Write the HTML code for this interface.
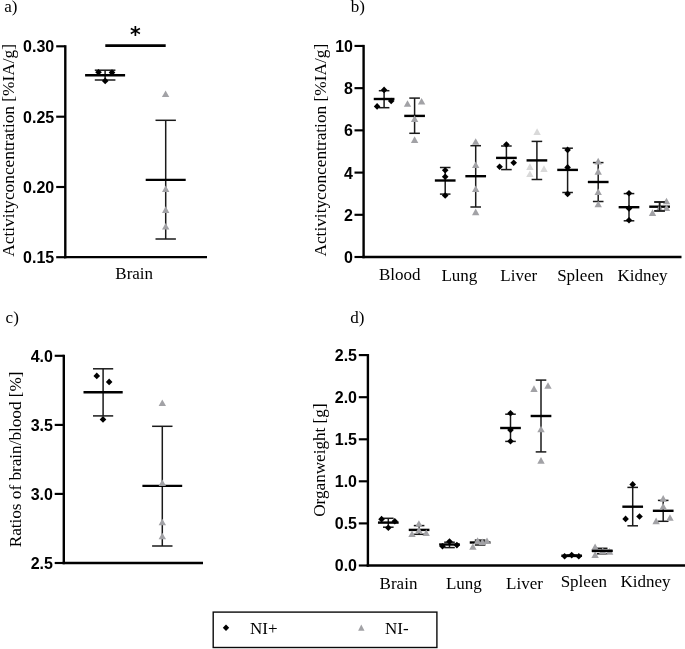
<!DOCTYPE html>
<html lang="en"><head><meta charset="utf-8"><title>Figure</title>
<style>html,body{margin:0;padding:0;background:#fff}svg{display:block}.s{font-family:"Liberation Serif","Times New Roman",serif;fill:#000}.b{font-family:"Liberation Sans",Arial,sans-serif;font-weight:bold;fill:#000}</style></head><body>
<svg width="685" height="649" viewBox="0 0 685 649">
<rect width="685" height="649" fill="#fff"/>
<text x="4.3" y="11.9" font-size="17" text-anchor="start" class="s">a)</text>
<text x="350.8" y="12.1" font-size="17" text-anchor="start" class="s">b)</text>
<text x="5.6" y="322.9" font-size="17" text-anchor="start" class="s">c)</text>
<text x="350.3" y="322.9" font-size="17" text-anchor="start" class="s">d)</text>
<line x1="65.3" y1="45.22" x2="65.3" y2="258.3" stroke="#000" stroke-width="2.4"/>
<line x1="64.1" y1="257.1" x2="207" y2="257.1" stroke="#000" stroke-width="2.4"/>
<line x1="56.2" y1="46.3" x2="65.3" y2="46.3" stroke="#000" stroke-width="2.15"/>
<text x="54.2" y="52.28" font-size="16" text-anchor="end" class="b">0.30</text>
<line x1="56.2" y1="116.7" x2="65.3" y2="116.7" stroke="#000" stroke-width="2.15"/>
<text x="54.2" y="122.68" font-size="16" text-anchor="end" class="b">0.25</text>
<line x1="56.2" y1="187" x2="65.3" y2="187" stroke="#000" stroke-width="2.15"/>
<text x="54.2" y="192.98" font-size="16" text-anchor="end" class="b">0.20</text>
<line x1="56.2" y1="257.2" x2="65.3" y2="257.2" stroke="#000" stroke-width="2.15"/>
<text x="54.2" y="263.18" font-size="16" text-anchor="end" class="b">0.15</text>
<text transform="translate(13.7 150.4) rotate(-90)" font-size="17" text-anchor="middle" class="s" textLength="212.7" lengthAdjust="spacingAndGlyphs">Activityconcentration [%IA/g]</text>
<text x="134.2" y="278.7" font-size="17" text-anchor="middle" class="s">Brain</text>
<line x1="105.3" y1="45.6" x2="165.7" y2="45.6" stroke="#000" stroke-width="2.7"/>
<text x="135.4" y="41.7" font-size="20.5" text-anchor="middle" font-weight="bold" font-family="DejaVu Sans, Liberation Sans, sans-serif" fill="#000">*</text>
<line x1="105.1" y1="70.2" x2="105.1" y2="80" stroke="#1a1a1a" stroke-width="1.5"/>
<line x1="94.8" y1="70.2" x2="115.4" y2="70.2" stroke="#1a1a1a" stroke-width="1.5"/>
<line x1="94.8" y1="80" x2="115.4" y2="80" stroke="#1a1a1a" stroke-width="1.5"/>
<line x1="85.1" y1="75.3" x2="125.1" y2="75.3" stroke="#000" stroke-width="2.5"/>
<path d="M98.5 68.9L101.8 72.2L98.5 75.5L95.2 72.2Z" fill="#000"/>
<path d="M112 69.3L115.3 72.6L112 75.9L108.7 72.6Z" fill="#000"/>
<path d="M105.2 77.6L108.5 80.9L105.2 84.2L101.9 80.9Z" fill="#000"/>
<line x1="165.7" y1="120.3" x2="165.7" y2="239" stroke="#1a1a1a" stroke-width="1.5"/>
<line x1="155.5" y1="120.3" x2="175.9" y2="120.3" stroke="#1a1a1a" stroke-width="1.5"/>
<line x1="155.5" y1="239" x2="175.9" y2="239" stroke="#1a1a1a" stroke-width="1.5"/>
<line x1="145.7" y1="179.9" x2="185.7" y2="179.9" stroke="#000" stroke-width="2.4"/>
<path d="M165.6 90.4L169.3 97L161.9 97Z" fill="#a2a2a6"/>
<path d="M165.7 185.5L169.4 192.1L162 192.1Z" fill="#a2a2a6"/>
<path d="M165.7 206.3L169.4 212.9L162 212.9Z" fill="#a2a2a6"/>
<path d="M165.7 223L169.4 229.6L162 229.6Z" fill="#a2a2a6"/>
<line x1="363.6" y1="44.88" x2="363.6" y2="258.2" stroke="#000" stroke-width="2.4"/>
<line x1="362.4" y1="257" x2="681.5" y2="257" stroke="#000" stroke-width="2.4"/>
<line x1="354.5" y1="45.95" x2="363.6" y2="45.95" stroke="#000" stroke-width="2.15"/>
<text x="353" y="51.68" font-size="16" text-anchor="end" class="b">10</text>
<line x1="354.5" y1="88.15" x2="363.6" y2="88.15" stroke="#000" stroke-width="2.15"/>
<text x="353" y="93.88" font-size="16" text-anchor="end" class="b">8</text>
<line x1="354.5" y1="130.35" x2="363.6" y2="130.35" stroke="#000" stroke-width="2.15"/>
<text x="353" y="136.08" font-size="16" text-anchor="end" class="b">6</text>
<line x1="354.5" y1="172.6" x2="363.6" y2="172.6" stroke="#000" stroke-width="2.15"/>
<text x="353" y="178.58" font-size="16" text-anchor="end" class="b">4</text>
<line x1="354.5" y1="214.8" x2="363.6" y2="214.8" stroke="#000" stroke-width="2.15"/>
<text x="353" y="220.53" font-size="16" text-anchor="end" class="b">2</text>
<line x1="354.5" y1="257" x2="363.6" y2="257" stroke="#000" stroke-width="2.15"/>
<text x="353" y="262.73" font-size="16" text-anchor="end" class="b">0</text>
<text transform="translate(325.6 150.2) rotate(-90)" font-size="17" text-anchor="middle" class="s" textLength="212.7" lengthAdjust="spacingAndGlyphs">Activityconcentration [%IA/g]</text>
<text x="399.8" y="279.8" font-size="17" text-anchor="middle" class="s">Blood</text>
<text x="459.4" y="281" font-size="17" text-anchor="middle" class="s">Lung</text>
<text x="518.7" y="281" font-size="17" text-anchor="middle" class="s">Liver</text>
<text x="580.3" y="281.1" font-size="17" text-anchor="middle" class="s">Spleen</text>
<text x="642.5" y="281.1" font-size="17" text-anchor="middle" class="s">Kidney</text>
<line x1="384.1" y1="90.7" x2="384.1" y2="107.7" stroke="#1a1a1a" stroke-width="1.5"/>
<line x1="378.8" y1="90.7" x2="389.4" y2="90.7" stroke="#1a1a1a" stroke-width="1.5"/>
<line x1="378.8" y1="107.7" x2="389.4" y2="107.7" stroke="#1a1a1a" stroke-width="1.5"/>
<line x1="373.75" y1="99" x2="394.45" y2="99" stroke="#000" stroke-width="2.4"/>
<path d="M384.1 86.6L387.4 89.9L384.1 93.2L380.8 89.9Z" fill="#000"/>
<path d="M391.2 97.7L394.5 101L391.2 104.3L387.9 101Z" fill="#000"/>
<path d="M377.1 103.1L380.4 106.4L377.1 109.7L373.8 106.4Z" fill="#000"/>
<line x1="414.6" y1="98.1" x2="414.6" y2="133.3" stroke="#1a1a1a" stroke-width="1.5"/>
<line x1="409.3" y1="98.1" x2="419.9" y2="98.1" stroke="#1a1a1a" stroke-width="1.5"/>
<line x1="409.3" y1="133.3" x2="419.9" y2="133.3" stroke="#1a1a1a" stroke-width="1.5"/>
<line x1="404.25" y1="115.9" x2="424.95" y2="115.9" stroke="#000" stroke-width="2.4"/>
<path d="M407.5 100.2L411.2 106.8L403.8 106.8Z" fill="#a2a2a6"/>
<path d="M421.6 98L425.3 104.6L417.9 104.6Z" fill="#a2a2a6"/>
<path d="M414.6 115.3L418.3 121.9L410.9 121.9Z" fill="#a2a2a6"/>
<path d="M414.6 136.3L418.3 142.9L410.9 142.9Z" fill="#a2a2a6"/>
<line x1="445.2" y1="167.5" x2="445.2" y2="194.1" stroke="#1a1a1a" stroke-width="1.5"/>
<line x1="439.9" y1="167.5" x2="450.5" y2="167.5" stroke="#1a1a1a" stroke-width="1.5"/>
<line x1="439.9" y1="194.1" x2="450.5" y2="194.1" stroke="#1a1a1a" stroke-width="1.5"/>
<line x1="434.85" y1="180.5" x2="455.55" y2="180.5" stroke="#000" stroke-width="2.4"/>
<path d="M445.2 167L448.5 170.3L445.2 173.6L441.9 170.3Z" fill="#000"/>
<path d="M445.2 173.5L448.5 176.8L445.2 180.1L441.9 176.8Z" fill="#000"/>
<path d="M445.2 192.2L448.5 195.5L445.2 198.8L441.9 195.5Z" fill="#000"/>
<line x1="475.7" y1="145.7" x2="475.7" y2="207" stroke="#1a1a1a" stroke-width="1.5"/>
<line x1="470.4" y1="145.7" x2="481" y2="145.7" stroke="#1a1a1a" stroke-width="1.5"/>
<line x1="470.4" y1="207" x2="481" y2="207" stroke="#1a1a1a" stroke-width="1.5"/>
<line x1="465.35" y1="176.2" x2="486.05" y2="176.2" stroke="#000" stroke-width="2.4"/>
<path d="M475.7 138.2L479.4 144.8L472 144.8Z" fill="#a2a2a6"/>
<path d="M475.7 161.4L479.4 168L472 168Z" fill="#a2a2a6"/>
<path d="M475.7 185.5L479.4 192.1L472 192.1Z" fill="#a2a2a6"/>
<path d="M475.7 208.6L479.4 215.2L472 215.2Z" fill="#a2a2a6"/>
<line x1="506.4" y1="146" x2="506.4" y2="169.6" stroke="#1a1a1a" stroke-width="1.5"/>
<line x1="501.1" y1="146" x2="511.7" y2="146" stroke="#1a1a1a" stroke-width="1.5"/>
<line x1="501.1" y1="169.6" x2="511.7" y2="169.6" stroke="#1a1a1a" stroke-width="1.5"/>
<line x1="496.05" y1="157.9" x2="516.75" y2="157.9" stroke="#000" stroke-width="2.4"/>
<path d="M506.4 141.2L509.7 144.5L506.4 147.8L503.1 144.5Z" fill="#000"/>
<path d="M499.6 163.4L502.9 166.7L499.6 170L496.3 166.7Z" fill="#000"/>
<path d="M513.7 159.5L517 162.8L513.7 166.1L510.4 162.8Z" fill="#000"/>
<line x1="536.9" y1="141.4" x2="536.9" y2="179.5" stroke="#1a1a1a" stroke-width="1.5"/>
<line x1="531.6" y1="141.4" x2="542.2" y2="141.4" stroke="#1a1a1a" stroke-width="1.5"/>
<line x1="531.6" y1="179.5" x2="542.2" y2="179.5" stroke="#1a1a1a" stroke-width="1.5"/>
<line x1="526.55" y1="160.4" x2="547.25" y2="160.4" stroke="#000" stroke-width="2.4"/>
<path d="M537.1 128.3L540.8 134.9L533.4 134.9Z" fill="#d9d9d9"/>
<path d="M529.9 163.3L533.6 169.9L526.2 169.9Z" fill="#d9d9d9"/>
<path d="M544 165.3L547.7 171.9L540.3 171.9Z" fill="#d9d9d9"/>
<path d="M529.9 170.5L533.6 177.1L526.2 177.1Z" fill="#d9d9d9"/>
<line x1="567.6" y1="148.2" x2="567.6" y2="192.5" stroke="#1a1a1a" stroke-width="1.5"/>
<line x1="562.3" y1="148.2" x2="572.9" y2="148.2" stroke="#1a1a1a" stroke-width="1.5"/>
<line x1="562.3" y1="192.5" x2="572.9" y2="192.5" stroke="#1a1a1a" stroke-width="1.5"/>
<line x1="557.25" y1="169.9" x2="577.95" y2="169.9" stroke="#000" stroke-width="2.4"/>
<path d="M567.6 146.6L570.9 149.9L567.6 153.2L564.3 149.9Z" fill="#000"/>
<path d="M567.6 164.1L570.9 167.4L567.6 170.7L564.3 167.4Z" fill="#000"/>
<path d="M567.6 190.6L570.9 193.9L567.6 197.2L564.3 193.9Z" fill="#000"/>
<line x1="598.2" y1="162.6" x2="598.2" y2="201.5" stroke="#1a1a1a" stroke-width="1.5"/>
<line x1="592.9" y1="162.6" x2="603.5" y2="162.6" stroke="#1a1a1a" stroke-width="1.5"/>
<line x1="592.9" y1="201.5" x2="603.5" y2="201.5" stroke="#1a1a1a" stroke-width="1.5"/>
<line x1="587.85" y1="182" x2="608.55" y2="182" stroke="#000" stroke-width="2.4"/>
<path d="M598.2 157.8L601.9 164.4L594.5 164.4Z" fill="#a2a2a6"/>
<path d="M598.2 168.1L601.9 174.7L594.5 174.7Z" fill="#a2a2a6"/>
<path d="M598.2 188.4L601.9 195L594.5 195Z" fill="#a2a2a6"/>
<path d="M598.2 200.7L601.9 207.3L594.5 207.3Z" fill="#a2a2a6"/>
<line x1="629" y1="193.6" x2="629" y2="220.8" stroke="#1a1a1a" stroke-width="1.5"/>
<line x1="623.7" y1="193.6" x2="634.3" y2="193.6" stroke="#1a1a1a" stroke-width="1.5"/>
<line x1="623.7" y1="220.8" x2="634.3" y2="220.8" stroke="#1a1a1a" stroke-width="1.5"/>
<line x1="618.65" y1="207.2" x2="639.35" y2="207.2" stroke="#000" stroke-width="2.4"/>
<path d="M629 189.9L632.3 193.2L629 196.5L625.7 193.2Z" fill="#000"/>
<path d="M629 205.1L632.3 208.4L629 211.7L625.7 208.4Z" fill="#000"/>
<path d="M629 217L632.3 220.3L629 223.6L625.7 220.3Z" fill="#000"/>
<line x1="659.6" y1="202" x2="659.6" y2="210.9" stroke="#1a1a1a" stroke-width="1.5"/>
<line x1="654.3" y1="202" x2="664.9" y2="202" stroke="#1a1a1a" stroke-width="1.5"/>
<line x1="654.3" y1="210.9" x2="664.9" y2="210.9" stroke="#1a1a1a" stroke-width="1.5"/>
<line x1="649.25" y1="206.7" x2="669.95" y2="206.7" stroke="#000" stroke-width="2.4"/>
<path d="M666.5 197.7L670.2 204.3L662.8 204.3Z" fill="#a2a2a6"/>
<path d="M652.5 209.3L656.2 215.9L648.8 215.9Z" fill="#a2a2a6"/>
<path d="M659.6 204.4L663.3 211L655.9 211Z" fill="#a2a2a6"/>
<path d="M666.5 204.4L670.2 211L662.8 211Z" fill="#a2a2a6"/>
<line x1="659.6" y1="202" x2="659.6" y2="210.9" stroke="#1a1a1a" stroke-width="1.5"/>
<line x1="654.3" y1="202" x2="664.9" y2="202" stroke="#1a1a1a" stroke-width="1.5"/>
<line x1="654.3" y1="210.9" x2="664.9" y2="210.9" stroke="#1a1a1a" stroke-width="1.5"/>
<line x1="63.8" y1="354.73" x2="63.8" y2="564.2" stroke="#000" stroke-width="2.4"/>
<line x1="62.6" y1="563" x2="203" y2="563" stroke="#000" stroke-width="2.4"/>
<line x1="54.7" y1="355.8" x2="63.8" y2="355.8" stroke="#000" stroke-width="2.15"/>
<text x="52.95" y="361.53" font-size="16" text-anchor="end" class="b">4.0</text>
<line x1="54.7" y1="424.9" x2="63.8" y2="424.9" stroke="#000" stroke-width="2.15"/>
<text x="52.95" y="430.63" font-size="16" text-anchor="end" class="b">3.5</text>
<line x1="54.7" y1="493.9" x2="63.8" y2="493.9" stroke="#000" stroke-width="2.15"/>
<text x="52.95" y="499.63" font-size="16" text-anchor="end" class="b">3.0</text>
<line x1="54.7" y1="563" x2="63.8" y2="563" stroke="#000" stroke-width="2.15"/>
<text x="52.95" y="568.73" font-size="16" text-anchor="end" class="b">2.5</text>
<text transform="translate(21.1 459.4) rotate(-90)" font-size="17" text-anchor="middle" class="s" textLength="175.8" lengthAdjust="spacingAndGlyphs">Ratios of brain/blood [%]</text>
<line x1="103.1" y1="368.8" x2="103.1" y2="415.9" stroke="#1a1a1a" stroke-width="1.5"/>
<line x1="93" y1="368.8" x2="113.2" y2="368.8" stroke="#1a1a1a" stroke-width="1.5"/>
<line x1="93" y1="415.9" x2="113.2" y2="415.9" stroke="#1a1a1a" stroke-width="1.5"/>
<line x1="83.5" y1="392.3" x2="122.7" y2="392.3" stroke="#000" stroke-width="2.4"/>
<path d="M96.75 372.6L100.05 375.9L96.75 379.2L93.45 375.9Z" fill="#000"/>
<path d="M109.15 378.6L112.45 381.9L109.15 385.2L105.85 381.9Z" fill="#000"/>
<path d="M103 416.1L106.3 419.4L103 422.7L99.7 419.4Z" fill="#000"/>
<line x1="162.3" y1="426.3" x2="162.3" y2="546" stroke="#1a1a1a" stroke-width="1.5"/>
<line x1="152.1" y1="426.3" x2="172.5" y2="426.3" stroke="#1a1a1a" stroke-width="1.5"/>
<line x1="152.1" y1="546" x2="172.5" y2="546" stroke="#1a1a1a" stroke-width="1.5"/>
<line x1="142.4" y1="485.9" x2="182.2" y2="485.9" stroke="#000" stroke-width="2.4"/>
<path d="M162.3 399.5L166 406.1L158.6 406.1Z" fill="#a2a2a6"/>
<path d="M162.3 479.4L166 486L158.6 486Z" fill="#a2a2a6"/>
<path d="M162.3 518.7L166 525.3L158.6 525.3Z" fill="#a2a2a6"/>
<path d="M162.3 532.7L166 539.3L158.6 539.3Z" fill="#a2a2a6"/>
<line x1="367.9" y1="354.03" x2="367.9" y2="566.7" stroke="#000" stroke-width="2.4"/>
<line x1="366.7" y1="565.5" x2="685" y2="565.5" stroke="#000" stroke-width="2.4"/>
<line x1="358.8" y1="355.1" x2="367.9" y2="355.1" stroke="#000" stroke-width="2.15"/>
<text x="357" y="361.03" font-size="16" text-anchor="end" class="b">2.5</text>
<line x1="358.8" y1="397.2" x2="367.9" y2="397.2" stroke="#000" stroke-width="2.15"/>
<text x="357" y="403.13" font-size="16" text-anchor="end" class="b">2.0</text>
<line x1="358.8" y1="439.3" x2="367.9" y2="439.3" stroke="#000" stroke-width="2.15"/>
<text x="357" y="445.23" font-size="16" text-anchor="end" class="b">1.5</text>
<line x1="358.8" y1="481.3" x2="367.9" y2="481.3" stroke="#000" stroke-width="2.15"/>
<text x="357" y="487.23" font-size="16" text-anchor="end" class="b">1.0</text>
<line x1="358.8" y1="523.4" x2="367.9" y2="523.4" stroke="#000" stroke-width="2.15"/>
<text x="357" y="529.33" font-size="16" text-anchor="end" class="b">0.5</text>
<line x1="358.8" y1="565.5" x2="367.9" y2="565.5" stroke="#000" stroke-width="2.15"/>
<text x="357" y="571.43" font-size="16" text-anchor="end" class="b">0.0</text>
<text transform="translate(324.6 460.1) rotate(-90)" font-size="17" text-anchor="middle" class="s" textLength="113.4" lengthAdjust="spacingAndGlyphs">Organweight [g]</text>
<text x="398.5" y="588.8" font-size="17" text-anchor="middle" class="s">Brain</text>
<text x="463.9" y="588.8" font-size="17" text-anchor="middle" class="s">Lung</text>
<text x="524.5" y="589" font-size="17" text-anchor="middle" class="s">Liver</text>
<text x="583.8" y="587.4" font-size="17" text-anchor="middle" class="s">Spleen</text>
<text x="645.6" y="587.4" font-size="17" text-anchor="middle" class="s">Kidney</text>
<line x1="388.3" y1="518.3" x2="388.3" y2="527.2" stroke="#1a1a1a" stroke-width="1.5"/>
<line x1="383" y1="518.3" x2="393.6" y2="518.3" stroke="#1a1a1a" stroke-width="1.5"/>
<line x1="383" y1="527.2" x2="393.6" y2="527.2" stroke="#1a1a1a" stroke-width="1.5"/>
<line x1="377.95" y1="522.6" x2="398.65" y2="522.6" stroke="#000" stroke-width="2.4"/>
<path d="M381.55 515.85L384.85 519.15L381.55 522.45L378.25 519.15Z" fill="#000"/>
<path d="M394.8 518L398.1 521.3L394.8 524.6L391.5 521.3Z" fill="#000"/>
<path d="M388.3 524.5L391.6 527.8L388.3 531.1L385 527.8Z" fill="#000"/>
<line x1="419.1" y1="525.6" x2="419.1" y2="534.3" stroke="#1a1a1a" stroke-width="1.5"/>
<line x1="413.8" y1="525.6" x2="424.4" y2="525.6" stroke="#1a1a1a" stroke-width="1.5"/>
<line x1="413.8" y1="534.3" x2="424.4" y2="534.3" stroke="#1a1a1a" stroke-width="1.5"/>
<line x1="408.75" y1="529.9" x2="429.45" y2="529.9" stroke="#000" stroke-width="2.4"/>
<path d="M418.9 520.2L422.6 526.8L415.2 526.8Z" fill="#a2a2a6"/>
<path d="M412 530.5L415.7 537.1L408.3 537.1Z" fill="#a2a2a6"/>
<path d="M418.9 526.7L422.6 533.3L415.2 533.3Z" fill="#a2a2a6"/>
<path d="M426.2 529.4L429.9 536L422.5 536Z" fill="#a2a2a6"/>
<line x1="449.5" y1="542.2" x2="449.5" y2="547.6" stroke="#1a1a1a" stroke-width="1.5"/>
<line x1="444.2" y1="542.2" x2="454.8" y2="542.2" stroke="#1a1a1a" stroke-width="1.5"/>
<line x1="444.2" y1="547.6" x2="454.8" y2="547.6" stroke="#1a1a1a" stroke-width="1.5"/>
<line x1="439.15" y1="544.5" x2="459.85" y2="544.5" stroke="#000" stroke-width="2.4"/>
<path d="M449.5 538.2L452.8 541.5L449.5 544.8L446.2 541.5Z" fill="#000"/>
<path d="M442.5 542.9L445.8 546.2L442.5 549.5L439.2 546.2Z" fill="#000"/>
<path d="M456.9 541.8L460.2 545.1L456.9 548.4L453.6 545.1Z" fill="#000"/>
<line x1="480.1" y1="540.1" x2="480.1" y2="545" stroke="#1a1a1a" stroke-width="1.5"/>
<line x1="474.8" y1="540.1" x2="485.4" y2="540.1" stroke="#1a1a1a" stroke-width="1.5"/>
<line x1="474.8" y1="545" x2="485.4" y2="545" stroke="#1a1a1a" stroke-width="1.5"/>
<line x1="469.75" y1="542.5" x2="490.45" y2="542.5" stroke="#000" stroke-width="2.4"/>
<path d="M472.9 543.2L476.6 549.8L469.2 549.8Z" fill="#a2a2a6"/>
<path d="M477.6 537.3L481.3 543.9L473.9 543.9Z" fill="#a2a2a6"/>
<path d="M482.3 538.5L486 545.1L478.6 545.1Z" fill="#a2a2a6"/>
<path d="M487 537.5L490.7 544.1L483.3 544.1Z" fill="#a2a2a6"/>
<line x1="510.5" y1="414.2" x2="510.5" y2="441.4" stroke="#1a1a1a" stroke-width="1.5"/>
<line x1="505.2" y1="414.2" x2="515.8" y2="414.2" stroke="#1a1a1a" stroke-width="1.5"/>
<line x1="505.2" y1="441.4" x2="515.8" y2="441.4" stroke="#1a1a1a" stroke-width="1.5"/>
<line x1="500.15" y1="428" x2="520.85" y2="428" stroke="#000" stroke-width="2.4"/>
<path d="M510.5 409.9L513.8 413.2L510.5 416.5L507.2 413.2Z" fill="#000"/>
<path d="M510.5 426.6L513.8 429.9L510.5 433.2L507.2 429.9Z" fill="#000"/>
<path d="M510.5 437.9L513.8 441.2L510.5 444.5L507.2 441.2Z" fill="#000"/>
<line x1="541" y1="380.1" x2="541" y2="451.9" stroke="#1a1a1a" stroke-width="1.5"/>
<line x1="535.7" y1="380.1" x2="546.3" y2="380.1" stroke="#1a1a1a" stroke-width="1.5"/>
<line x1="535.7" y1="451.9" x2="546.3" y2="451.9" stroke="#1a1a1a" stroke-width="1.5"/>
<line x1="530.65" y1="416" x2="551.35" y2="416" stroke="#000" stroke-width="2.4"/>
<path d="M534 385.3L537.7 391.9L530.3 391.9Z" fill="#a2a2a6"/>
<path d="M548 382.2L551.7 388.8L544.3 388.8Z" fill="#a2a2a6"/>
<path d="M541 425.7L544.7 432.3L537.3 432.3Z" fill="#a2a2a6"/>
<path d="M541 457.1L544.7 463.7L537.3 463.7Z" fill="#a2a2a6"/>
<line x1="571.7" y1="555" x2="571.7" y2="556.4" stroke="#1a1a1a" stroke-width="1.5"/>
<line x1="566.4" y1="555" x2="577" y2="555" stroke="#1a1a1a" stroke-width="1.5"/>
<line x1="566.4" y1="556.4" x2="577" y2="556.4" stroke="#1a1a1a" stroke-width="1.5"/>
<line x1="561.35" y1="555.7" x2="582.05" y2="555.7" stroke="#000" stroke-width="2.4"/>
<path d="M564.6 552.9L567.9 556.2L564.6 559.5L561.3 556.2Z" fill="#000"/>
<path d="M571.7 551.8L575 555.1L571.7 558.4L568.4 555.1Z" fill="#000"/>
<path d="M578.8 552.9L582.1 556.2L578.8 559.5L575.5 556.2Z" fill="#000"/>
<line x1="602.2" y1="548.3" x2="602.2" y2="553.8" stroke="#1a1a1a" stroke-width="1.5"/>
<line x1="596.9" y1="548.3" x2="607.5" y2="548.3" stroke="#1a1a1a" stroke-width="1.5"/>
<line x1="596.9" y1="553.8" x2="607.5" y2="553.8" stroke="#1a1a1a" stroke-width="1.5"/>
<line x1="591.85" y1="550.9" x2="612.55" y2="550.9" stroke="#000" stroke-width="2.4"/>
<path d="M595.1 543.4L598.8 550L591.4 550Z" fill="#a2a2a6"/>
<path d="M595.1 551.3L598.8 557.9L591.4 557.9Z" fill="#a2a2a6"/>
<path d="M602.7 547.3L606.4 553.9L599 553.9Z" fill="#a2a2a6"/>
<path d="M609.6 548.1L613.3 554.7L605.9 554.7Z" fill="#a2a2a6"/>
<line x1="591.85" y1="550.9" x2="612.55" y2="550.9" stroke="#000" stroke-width="2.4"/>
<line x1="632.7" y1="487.4" x2="632.7" y2="525.8" stroke="#1a1a1a" stroke-width="1.5"/>
<line x1="627.4" y1="487.4" x2="638" y2="487.4" stroke="#1a1a1a" stroke-width="1.5"/>
<line x1="627.4" y1="525.8" x2="638" y2="525.8" stroke="#1a1a1a" stroke-width="1.5"/>
<line x1="622.35" y1="506.7" x2="643.05" y2="506.7" stroke="#000" stroke-width="2.4"/>
<path d="M632.7 481.1L636 484.4L632.7 487.7L629.4 484.4Z" fill="#000"/>
<path d="M625.6 515.6L628.9 518.9L625.6 522.2L622.3 518.9Z" fill="#000"/>
<path d="M639.5 513.2L642.8 516.5L639.5 519.8L636.2 516.5Z" fill="#000"/>
<line x1="663.2" y1="500.4" x2="663.2" y2="521.3" stroke="#1a1a1a" stroke-width="1.5"/>
<line x1="657.9" y1="500.4" x2="668.5" y2="500.4" stroke="#1a1a1a" stroke-width="1.5"/>
<line x1="657.9" y1="521.3" x2="668.5" y2="521.3" stroke="#1a1a1a" stroke-width="1.5"/>
<line x1="652.85" y1="510.8" x2="673.55" y2="510.8" stroke="#000" stroke-width="2.4"/>
<path d="M663.2 495.1L666.9 501.7L659.5 501.7Z" fill="#a2a2a6"/>
<path d="M663.2 502.9L666.9 509.5L659.5 509.5Z" fill="#a2a2a6"/>
<path d="M656.1 517.6L659.8 524.2L652.4 524.2Z" fill="#a2a2a6"/>
<path d="M670 514.2L673.7 520.8L666.3 520.8Z" fill="#a2a2a6"/>
<rect x="213.2" y="612.1" width="223.7" height="35.4" fill="#fff" stroke="#0a0a0a" stroke-width="1.4"/>
<path d="M226 624.5L229.2 627.7L226 630.9L222.8 627.7Z" fill="#000"/>
<text x="250" y="633.5" font-size="17" text-anchor="start" class="s">NI+</text>
<path d="M361.3 624.5L364.5 630.7L358.1 630.7Z" fill="#a2a2a6"/>
<text x="385" y="633.5" font-size="17" text-anchor="start" class="s">NI-</text>
</svg></body></html>
